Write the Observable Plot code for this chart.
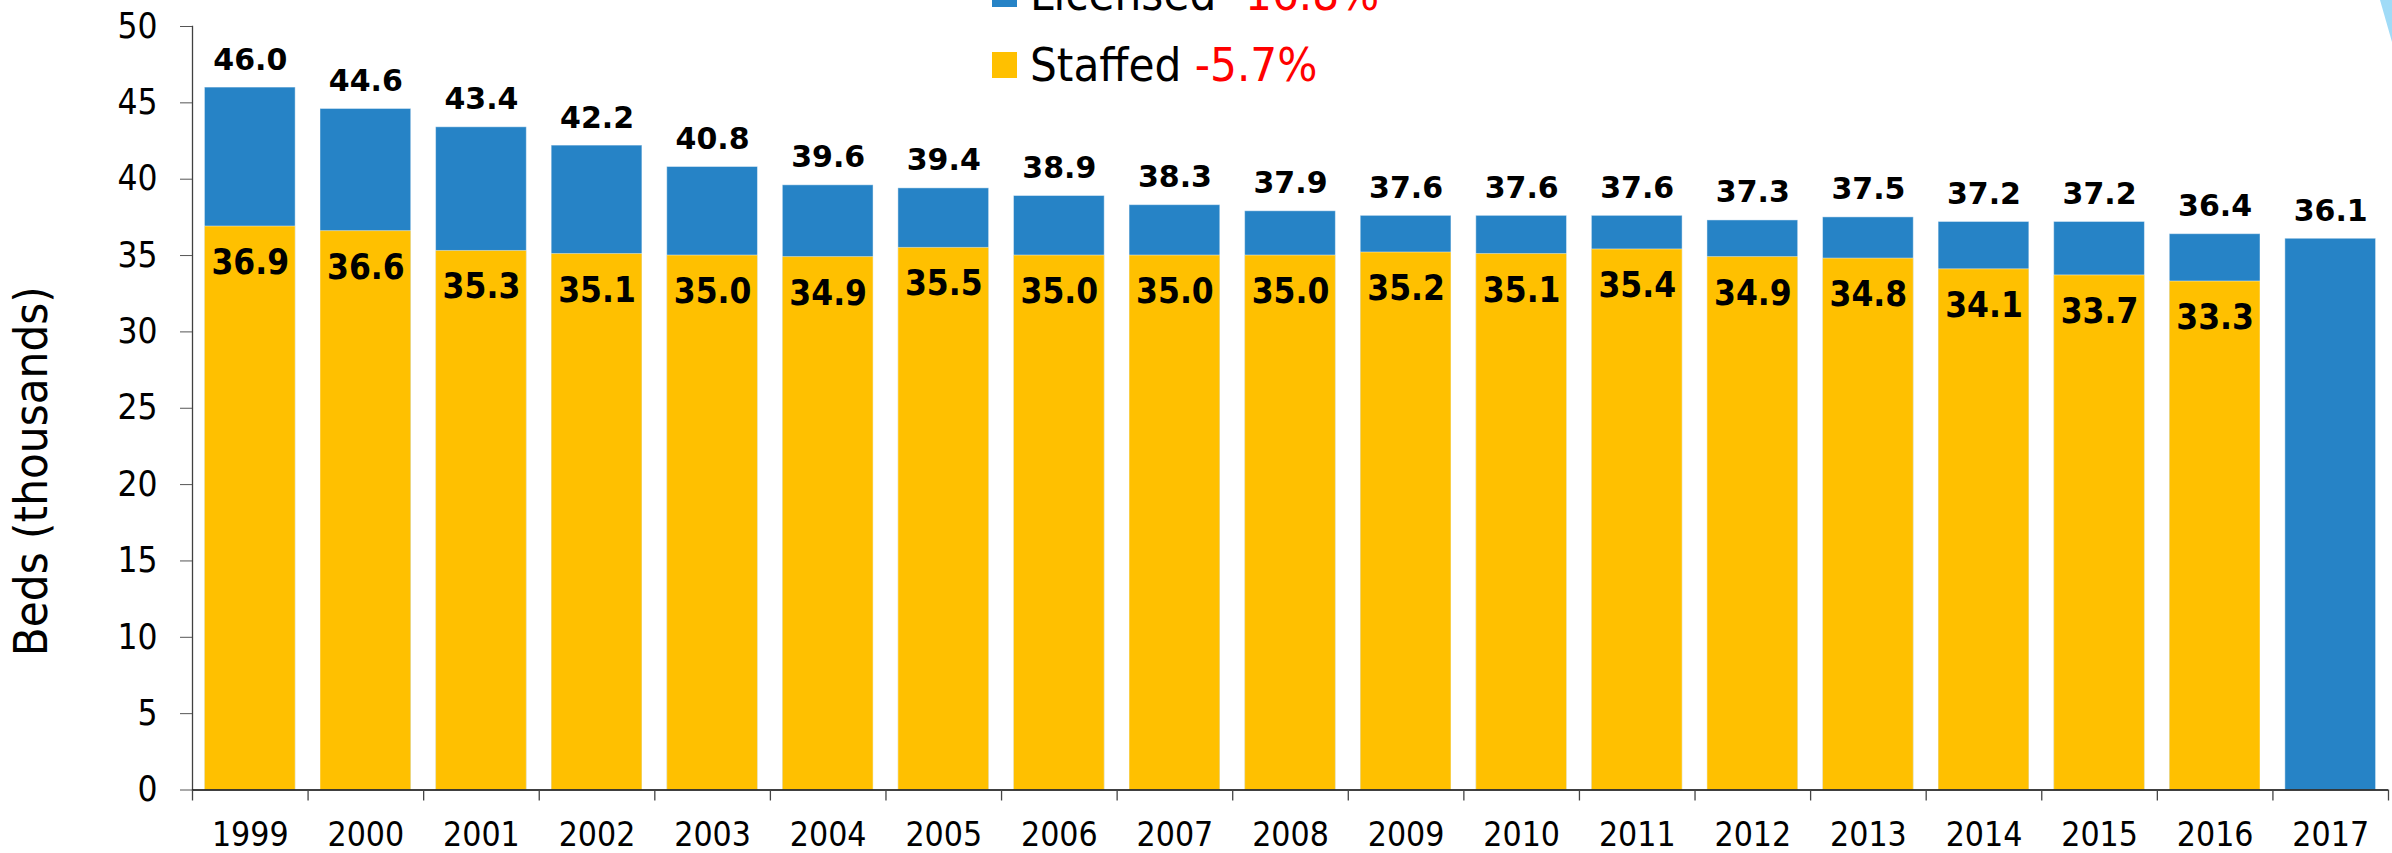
<!DOCTYPE html>
<html>
<head>
<meta charset="utf-8">
<script src="https://cdn.jsdelivr.net/npm/d3@7"></script>
<script src="https://cdn.jsdelivr.net/npm/@observablehq/plot@0.6"></script>
<style>
  html, body { margin: 0; padding: 0; background: #fff; overflow: hidden; }
  #wrap { position: relative; width: 2392px; height: 853px; }
  #wrap > svg { display: block; }
  #legend { position: absolute; left: 0; top: 0; width: 2392px; height: 853px; pointer-events: none;
            font-family: "DejaVu Sans Condensed", "DejaVu Sans", sans-serif; font-size: 47px; line-height: 47px; color: #000; }
  .row { position: absolute; left: 1030px; white-space: pre; }
  .sw { position: absolute; left: 992px; width: 25px; height: 26px; }
  .pct { color: #ff0000; }
  #wedge { position: absolute; left: 2380px; top: 0; width: 12px; height: 42px; background: #a0dbf7;
           clip-path: polygon(0 0, 100% 0, 100% 100%); }
</style>
</head>
<body>
<div id="wrap"></div>
<script>
// ---- data ----
const years = ["1999","2000","2001","2002","2003","2004","2005","2006","2007","2008","2009","2010","2011","2012","2013","2014","2015","2016","2017"];
const licensed = [46.0,44.6,43.4,42.2,40.8,39.6,39.4,38.9,38.3,37.9,37.6,37.6,37.6,37.3,37.5,37.2,37.2,36.4,36.1];
const staffed  = [36.9,36.6,35.3,35.1,35.0,34.9,35.5,35.0,35.0,35.0,35.2,35.1,35.4,34.9,34.8,34.1,33.7,33.3,null];
const seriesNames = ["Licensed", "Staffed"];
const seriesChange = ["-16.8%", "-5.7%"];
const seriesColors = ["#2683c6", "#ffc000"];
const yTicks = [0,5,10,15,20,25,30,35,40,45,50];
const yLabel = "Beds (thousands)";

const rows = years.map((year, i) => ({year, licensed: licensed[i], staffed: staffed[i]}));
const staffedRows = rows.filter(d => d.staffed != null);

const W = 2392, H = 853, mL = 192, mR = 4, mT = 26, mB = 63.5;
const step = (W - mL - mR) / years.length;
const font = '"DejaVu Sans Condensed", "DejaVu Sans", sans-serif';
const fmt = d3.format(".1f");

const chart = Plot.plot({
  width: W, height: H,
  marginLeft: mL, marginRight: mR, marginTop: mT, marginBottom: mB,
  style: {fontFamily: font, background: "white", color: "black", overflow: "visible"},
  x: {type: "band", domain: years, paddingInner: 0.215, paddingOuter: 0.1075, round: false, label: null},
  y: {domain: [0, 50], label: null},
  marks: [
    Plot.barY(rows, {x: "year", y: "licensed", fill: seriesColors[0], stroke: "white", strokeOpacity: 0.45, strokeWidth: 1}),
    Plot.barY(staffedRows, {x: "year", y: "staffed", fill: seriesColors[1], stroke: "white", strokeOpacity: 0.45, strokeWidth: 1}),
    Plot.frame({anchor: "left", stroke: "#404040", strokeWidth: 1.3}),
    Plot.ruleY([0], {stroke: "black", strokeWidth: 1.5}),
    Plot.axisY({ticks: yTicks, tickSize: 12, tickPadding: 23, fontSize: 35, stroke: "#555", label: null}),
    Plot.axisX({tickSize: 11, dx: -step / 2, tickFormat: () => "", stroke: "#444", strokeWidth: 1.3}),
    Plot.axisX([years[years.length - 1]], {tickSize: 11, dx: step / 2, tickFormat: () => "", stroke: "#444", strokeWidth: 1.3}),
    Plot.axisX({tickSize: 0, tickPadding: 32, fontSize: 33.5, label: null}),
    Plot.text([yLabel], {frameAnchor: "left", textAnchor: "middle", rotate: -90, dx: -161, dy: 63, fontSize: 47, fill: "black"}),
    Plot.text(rows, {x: "year", y: "licensed", text: d => fmt(d.licensed), lineAnchor: "bottom", dy: -18,
                     fontSize: 30, fontWeight: "bold", fontFamily: '"DejaVu Sans", sans-serif', fill: "black"}),
    Plot.text(staffedRows, {x: "year", y: "staffed", text: d => fmt(d.staffed), lineAnchor: "bottom", dy: 47.5,
                     fontSize: 35, fontWeight: "bold", fill: "black"})
  ]
});

const wrap = document.getElementById("wrap");
wrap.appendChild(chart);

// legend (two rows; the first one is partly above the page)
const legend = document.createElement("div");
legend.id = "legend";
const baselines = [10, 81];
seriesNames.forEach((name, i) => {
  const sw = document.createElement("div");
  sw.className = "sw";
  sw.style.background = seriesColors[i];
  sw.style.top = (baselines[i] - 29) + "px";
  legend.appendChild(sw);
  const row = document.createElement("div");
  row.className = "row";
  row.style.top = (baselines[i] - 39.8) + "px";
  row.innerHTML = `${name} <span class="pct">${seriesChange[i]}</span>`;
  legend.appendChild(row);
});
wrap.appendChild(legend);
const wedge = document.createElement("div");
wedge.id = "wedge";
wrap.appendChild(wedge);
</script>
</body>
</html>
